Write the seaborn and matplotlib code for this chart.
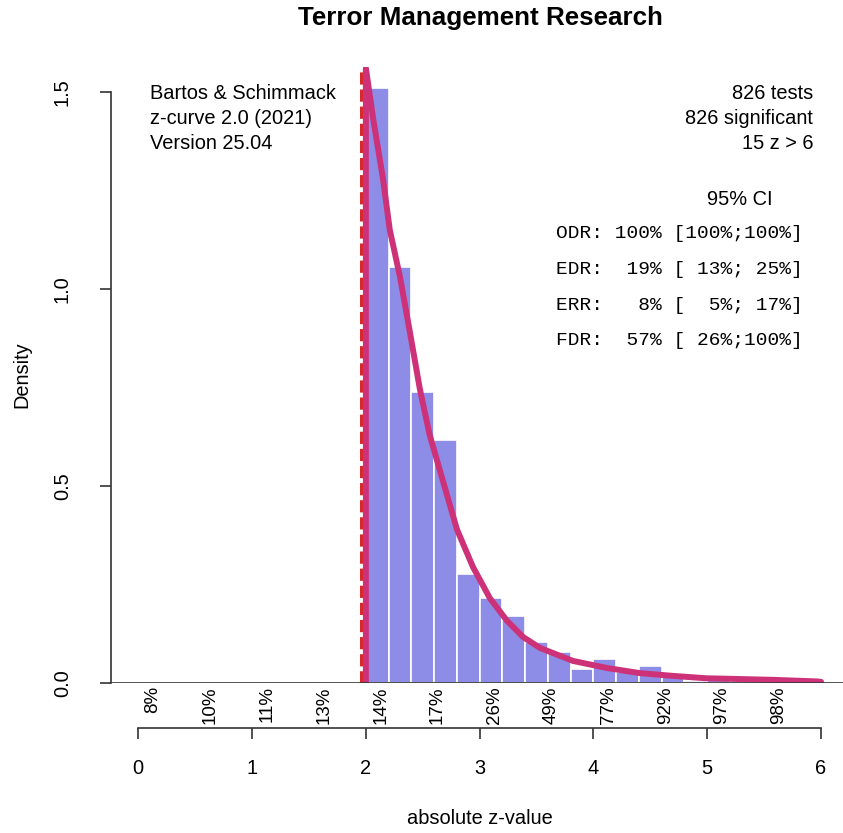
import numpy as np
import pandas as pd
import seaborn as sns
import matplotlib.pyplot as plt

sns.set_style('white')
plt.rcParams['font.family'] = ['Liberation Sans', 'DejaVu Sans']
plt.rcParams['text.color'] = 'black'
plt.rcParams['axes.labelcolor'] = 'black'
plt.rcParams['xtick.color'] = 'black'
plt.rcParams['ytick.color'] = 'black'

# histogram: bin left edges and density heights
bin_left = [2.0, 2.2, 2.4, 2.6, 2.8, 3.0, 3.2, 3.4, 3.6, 3.8,
            4.0, 4.2, 4.4, 4.6, 4.8, 5.0, 5.2, 5.4, 5.6, 5.8]
density = [1.51, 1.055, 0.738, 0.617, 0.276, 0.215, 0.170, 0.103, 0.079, 0.036,
           0.062, 0.028, 0.042, 0.018, 0.006, 0.012, 0.006, 0.006, 0.006, 0.006]

# fitted z-curve density
curve_z = [2.0, 2.0, 2.065, 2.15, 2.21, 2.30, 2.39, 2.475, 2.56, 2.65, 2.80, 2.94,
           3.09, 3.24, 3.38, 3.53, 3.82, 3.97, 4.12, 4.41, 4.70, 4.99, 5.29, 5.58, 5.96, 6.0]
curve_d = [0.0, 1.56, 1.43, 1.28, 1.15, 1.03, 0.885, 0.745, 0.63, 0.54, 0.39, 0.295,
           0.215, 0.158, 0.117, 0.089, 0.056, 0.047, 0.038, 0.025, 0.018, 0.012, 0.010, 0.008, 0.004, 0.003]

# power labels along the x axis
pct_labels = ['8%', '10%', '11%', '13%', '14%', '17%', '26%', '49%', '77%', '92%', '97%', '98%']
pct_pos = [0.13, 0.63, 1.13, 1.63, 2.13, 2.63, 3.13, 3.63, 4.13, 4.63, 5.13, 5.63]

left_info = ['Bartos & Schimmack', 'z-curve 2.0 (2021)', 'Version 25.04']
right_info = ['826 tests', '826 significant', '15 z > 6']
stats_lines = ['ODR: 100% [100%;100%]', 'EDR:  19% [ 13%; 25%]',
               'ERR:   8% [  5%; 17%]', 'FDR:  57% [ 26%;100%]']

W, H = 843, 833
fig = plt.figure(figsize=(W / 100, H / 100), dpi=100)
ax = fig.add_axes([110.7 / W, 1 - 683 / H, 1 - 110.7 / W, (683 - 67) / H])

df = pd.DataFrame({'z': np.array(bin_left) + 0.1, 'd': density})
edges = list(bin_left) + [6.0]
sns.histplot(data=df, x='z', weights='d', bins=edges, stat='count',
             color='#8d8de7', alpha=1, edgecolor='white', linewidth=1.2, ax=ax)

ax.axvline(1.96, color='#d62a2a', lw=2.2, ls=(0, (4, 1.6)), zorder=3)
cdf = pd.DataFrame({'z': curve_z, 'd': curve_d})
sns.lineplot(data=cdf, x='z', y='d', sort=False, estimator=None, color='#cd3278',
             lw=4.3, ax=ax, zorder=4)
ax.axhline(0, color='#333333', lw=1.2, zorder=5)

ax.set_xlim(-0.2425, 6.193)
ax.set_ylim(0, 1.563)

for s in ['top', 'right']:
    ax.spines[s].set_visible(False)
ax.spines['left'].set_bounds(0, 1.5)
ax.spines['bottom'].set_position(('outward', 32.4))
ax.spines['bottom'].set_bounds(0, 6)
for s in ['left', 'bottom']:
    ax.spines[s].set_color('#333333')
    ax.spines[s].set_linewidth(1.2)

ax.set_xticks(range(7))
ax.set_yticks([0, 0.5, 1.0, 1.5])
ax.set_yticklabels(['0.0', '0.5', '1.0', '1.5'], rotation=90, va='center')
ax.tick_params(axis='both', direction='out', length=8, width=1.2, color='#333333',
               labelsize=14.4, left=True, bottom=True)
ax.tick_params(axis='x', pad=14)
ax.tick_params(axis='y', pad=20)

ax.set_xlabel('absolute z-value', fontsize=14.4, labelpad=0)
ax.set_ylabel('Density', fontsize=14.4)
ax.xaxis.set_label_coords((479.7 - 110.7) / (W - 110.7), -(818 - 683) / (683 - 67))
ax.yaxis.set_label_coords(-(110.7 - 22) / (W - 110.7), 0.5)
ax.xaxis.label.set_va('center')
ax.yaxis.label.set_va('center')

fig.text(480 / W, 1 - 18 / H, 'Terror Management Research', ha='center', va='center',
         fontsize=18.7, fontweight='bold')

for p, lab in zip(pct_pos, pct_labels):
    ax.text(p, -0.008, lab, rotation=90, ha='center', va='top', fontsize=13.5,
            clip_on=False)

for i, t in enumerate(left_info):
    ax.text(0.10, 1.497 - i * 0.0635, t, ha='left', va='center', fontsize=14.4)
for i, t in enumerate(right_info):
    ax.text(5.93, 1.497 - i * 0.0635, t, ha='right', va='center', fontsize=14.4)
ax.text(5.29, 1.228, '95% CI', ha='center', va='center', fontsize=14.4)
for i, t in enumerate(stats_lines):
    ax.text(3.67, 1.140 - i * 0.0907, t, ha='left', va='center', fontsize=14,
            family='Liberation Mono')

fig.savefig('out.png', dpi=100)
